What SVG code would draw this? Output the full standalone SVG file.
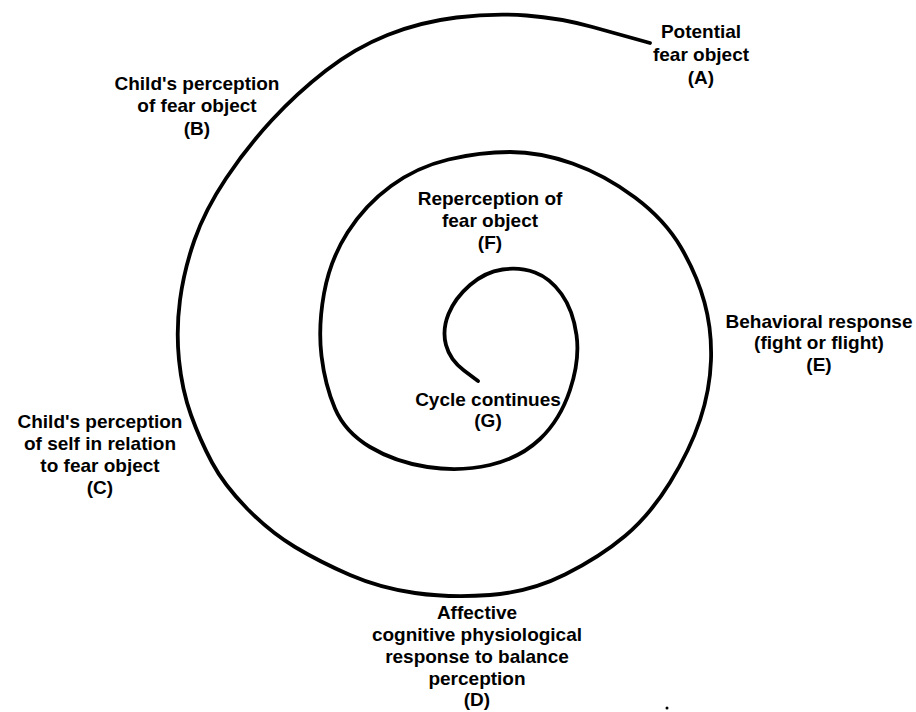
<svg xmlns="http://www.w3.org/2000/svg" width="916" height="712" viewBox="0 0 916 712">
<style>
.lbl{font-family:"Liberation Sans",Arial,sans-serif;font-weight:bold;font-size:19px;fill:#000;text-anchor:middle}
.spiral{fill:none;stroke:#000;stroke-width:3.8;stroke-linecap:round;stroke-linejoin:round}
</style>
<rect width="916" height="712" fill="#fff"/>
<g id="connectors">
<path class="spiral" d="M650,43 L637.5,39.5 Q625,36 592.5,27 Q560,18 526.5,15.5 Q493,13 456.5,17.5 Q420,22 387.5,35 Q355,48 326,70.5 Q297,93 272,120 Q247,147 226,178.5 Q205,210 194.5,240 Q184,270 180,300 Q176,330 179,360 Q182,390 191,415 Q200,440 212,462.5 Q224,485 247,508.5 Q270,532 295,547 Q320,562 350,575 Q380,588 415,593 Q450,598 490,595 Q530,592 565,574.5 Q600,557 625,536 Q650,515 670,482.5 Q690,450 700,420 Q710,390 711,360 Q712,330 704.5,302.5 Q697,275 681,247.5 Q665,220 635,197.5 Q605,175 572.5,163.5 Q540,152 510,152 Q480,152 448.5,159.5 Q417,167 391,186 Q365,205 347.5,232.5 Q330,260 324,293.5 Q318,327 321.5,356 Q325,385 335,408.5 Q345,432 370,447 Q395,462 427.5,467 Q460,472 490,465 Q520,458 540,439 Q560,420 570,390 Q580,360 576.5,335 Q573,310 561.5,294 Q550,278 535,272.5 Q520,267 502.5,269.5 Q485,272 470,285 Q455,298 448.5,314 Q442,330 446,345 Q450,360 464,370.5 L478,381"/>
</g>
<g id="nodeA">
<text class="lbl" x="701" y="38">Potential</text>
<text class="lbl" x="701" y="61">fear object</text>
<text class="lbl" x="701" y="84">(A)</text>
</g>
<g id="nodeB">
<text class="lbl" x="197" y="90">Child's perception</text>
<text class="lbl" x="197" y="112">of fear object</text>
<text class="lbl" x="197" y="135">(B)</text>
</g>
<g id="nodeC">
<text class="lbl" x="100" y="428">Child's perception</text>
<text class="lbl" x="100" y="450">of self in relation</text>
<text class="lbl" x="100" y="472">to fear object</text>
<text class="lbl" x="100" y="494">(C)</text>
</g>
<g id="nodeD">
<text class="lbl" x="477" y="619">Affective</text>
<text class="lbl" x="477" y="641">cognitive physiological</text>
<text class="lbl" x="477" y="663">response to balance</text>
<text class="lbl" x="477" y="685">perception</text>
<text class="lbl" x="477" y="706">(D)</text>
</g>
<g id="nodeE">
<text class="lbl" x="819" y="328">Behavioral response</text>
<text class="lbl" x="819" y="349">(fight or flight)</text>
<text class="lbl" x="819" y="371">(E)</text>
</g>
<g id="nodeF">
<text class="lbl" x="490" y="205">Reperception of</text>
<text class="lbl" x="490" y="227">fear object</text>
<text class="lbl" x="490" y="249">(F)</text>
</g>
<g id="nodeG">
<text class="lbl" x="488" y="406">Cycle continues</text>
<text class="lbl" x="488" y="427">(G)</text>
</g>
<circle cx="667" cy="708" r="1.5" fill="#000"/>
</svg>
